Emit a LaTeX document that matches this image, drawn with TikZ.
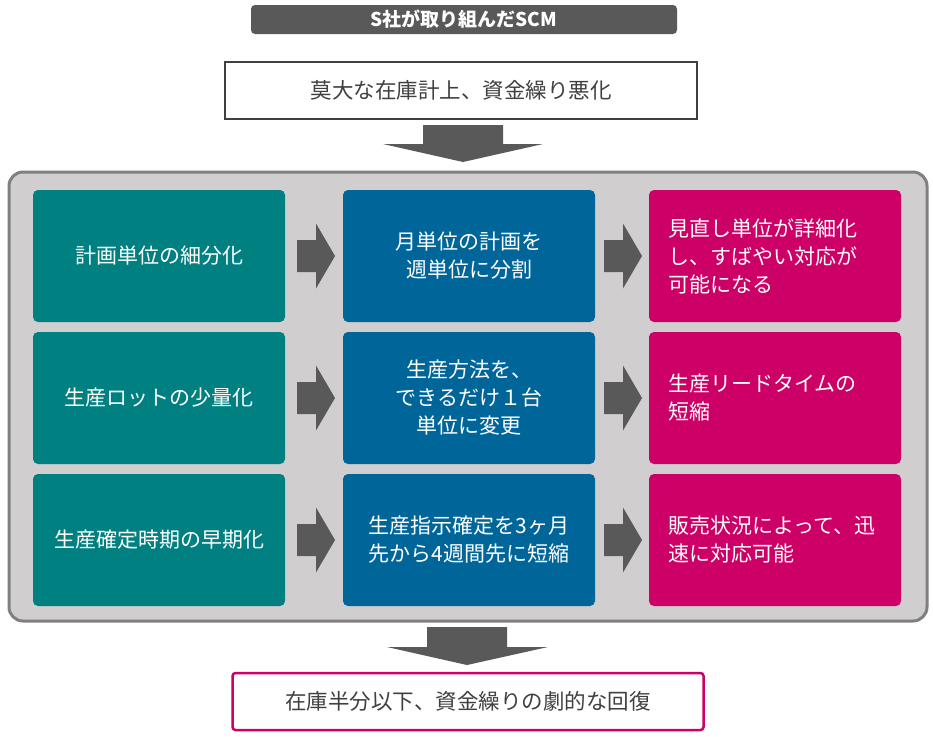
\documentclass[tikz,border=0pt]{standalone}
\usepackage{fontspec}
\setmainfont{Noto Sans CJK JP}
\definecolor{titlegray}{HTML}{595959}
\definecolor{txtgray}{HTML}{404040}
\definecolor{panelfill}{HTML}{D0CECE}
\definecolor{panelline}{HTML}{808080}
\definecolor{arrgray}{HTML}{595959}
\definecolor{cteal}{HTML}{008080}
\definecolor{cblue}{HTML}{006699}
\definecolor{cmag}{HTML}{CC0066}
\newcommand\myrarrow[2]{\fill[arrgray] (#1,#2-16) -- (#1+19,#2-16) -- (#1+19,#2-32.5) -- (#1+38,#2) -- (#1+19,#2+32.5) -- (#1+19,#2+16) -- (#1,#2+16) -- cycle;}
\begin{document}
\begin{tikzpicture}[x=1pt,y=-1pt,
  every node/.style={font=\fontsize{21}{28}\selectfont, inner sep=0pt},
  cell/.style={rounded corners=5pt, minimum width=252pt, minimum height=132pt, text=white},
  ccenter/.style={cell, align=center},
  cleft/.style={cell, text width=214pt, align=left}]
\useasboundingbox (0,0) rectangle (933,736);
\fill[white] (0,0) rectangle (933,736);
% title
\node[fill=titlegray, rounded corners=4pt, minimum width=426pt, minimum height=29pt, text=white, font=\fontsize{19}{20}\selectfont\bfseries] (title) at (464,19.5) {S社が取り組んだSCM};
% top box
\node[draw=txtgray, line width=2pt, fill=white, minimum width=472pt, minimum height=57pt, text=txtgray, font=\fontsize{21.5}{28}\selectfont] (top) at (461,90.5) {莫大な在庫計上、資金繰り悪化};
% arrow 1
\fill[arrgray] (423,125) -- (503,125) -- (503,144) -- (543,144) -- (463,162) -- (383,144) -- (423,144) -- cycle;
% panel
\draw[panelline, fill=panelfill, line width=3pt, rounded corners=14pt] (9,172) rectangle (927,621);
% row 1
\node[ccenter, fill=cteal] (a1) at (159,256) {計画単位の細分化};
\node[ccenter, fill=cblue] (b1) at (469,256) {月単位の計画を\\週単位に分割};
\node[cleft, fill=cmag] (c1) at (775,256) {見直し単位が詳細化\\し、すばやい対応が\\可能になる};
% row 2
\node[ccenter, fill=cteal] (a2) at (159,398) {生産ロットの少量化};
\node[ccenter, fill=cblue] (b2) at (469,398) {生産方法を、\\できるだけ１台\\単位に変更};
\node[cleft, fill=cmag] (c2) at (775,398) {生産リードタイムの\\短縮};
% row 3
\node[ccenter, fill=cteal] (a3) at (159,540) {生産確定時期の早期化};
\node[ccenter, fill=cblue] (b3) at (469,540) {生産指示確定を3ヶ月\\先から4週間先に短縮};
\node[cleft, fill=cmag] (c3) at (775,540) {販売状況によって、迅\\速に対応可能};
% small arrows
\myrarrow{297}{256}
\myrarrow{604}{256}
\myrarrow{297}{398}
\myrarrow{604}{398}
\myrarrow{297}{540}
\myrarrow{604}{540}
% arrow 2
\fill[arrgray] (427,627) -- (507,627) -- (507,647) -- (548,647) -- (467,665) -- (387,647) -- (427,647) -- cycle;
% bottom box
\node[draw=cmag, line width=2.5pt, rounded corners=3pt, fill=white, minimum width=471pt, minimum height=57pt, text=txtgray, font=\fontsize{21.5}{28}\selectfont] (bot) at (468,701.5) {在庫半分以下、資金繰りの劇的な回復};
\end{tikzpicture}
\end{document}
